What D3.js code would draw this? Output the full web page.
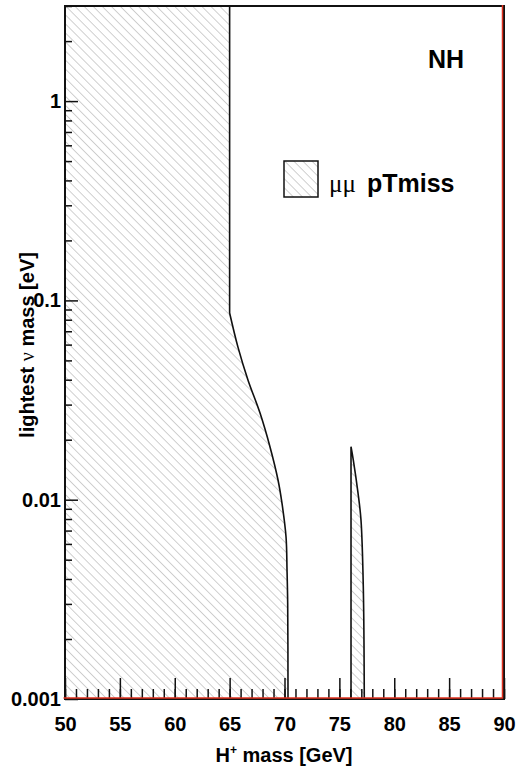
<!DOCTYPE html>
<html>
<head>
<meta charset="utf-8">
<script src="https://cdn.jsdelivr.net/npm/d3@7"></script>
<style>
  body { margin: 0; background: #fff; }
  text { font-family: "Liberation Sans", Arial, Helvetica, sans-serif; font-weight: bold; fill: #000; }
  .greek { font-family: "Liberation Serif", "DejaVu Serif", serif; font-weight: normal; }
</style>
</head>
<body>
<div id="chart"></div>
<script>

// x axis: H+ mass [GeV]
var xTicks = [50, 55, 60, 65, 70, 75, 80, 85, 90];
var xTickLabels = ['50', '55', '60', '65', '70', '75', '80', '85', '90'];
var xMinorTicks = d3.range(50, 91, 1);

// y axis: lightest neutrino mass [eV], log
var yTicks = [0.001, 0.01, 0.1, 1];
var yTickLabels = ['0.001', '0.01', '0.1', '1'];
var yMinorTicks = [0.002, 0.003, 0.004, 0.005, 0.006, 0.007, 0.008, 0.009,
                   0.02, 0.03, 0.04, 0.05, 0.06, 0.07, 0.08, 0.09,
                   0.2, 0.3, 0.4, 0.5, 0.6, 0.7, 0.8, 0.9, 2, 3];

// excluded region 1: corner points, then the curved edge
var mainCornerX = [50, 65];
var mainCornerY = [3, 3];
var mainEdgeX = [65, 65.76, 66.67, 67.77, 68.68, 69.41, 69.77, 70.14, 70.23, 70.29, 70.32];
var mainEdgeY = [0.0865, 0.0583, 0.0399, 0.0272, 0.0184, 0.01256, 0.0096, 0.0065, 0.00444, 0.00303, 0.001];

// excluded region 2: thin sliver
var sliverEdgeX = [76.06, 76.27, 76.70, 76.97, 77.18, 77.27];
var sliverEdgeY = [0.01845, 0.0158, 0.0108, 0.0079, 0.00365, 0.001];

// red frame graph
var redX = [50, 90, 90];
var redY = [0.001, 0.001, 3];

var legendLabel = 'pTmiss';
var legendGreek = '\u03bc\u03bc';
var cornerLabel = 'NH';

var margin = { top: 6, right: 15, bottom: 71, left: 65 };
var width = 519 - margin.left - margin.right;
var height = 770 - margin.top - margin.bottom;

var svg = d3.select('#chart')
  .append('svg')
    .attr('width', 519)
    .attr('height', 770);

var defs = svg.append('defs');
defs.append('pattern')
    .attr('id', 'hatch')
    .attr('patternUnits', 'userSpaceOnUse')
    .attr('width', 6.4)
    .attr('height', 6.4)
    .attr('patternTransform', 'rotate(-45)')
  .append('line')
    .attr('x1', 0).attr('y1', 0)
    .attr('x2', 0).attr('y2', 6.4)
    .attr('stroke', '#8c8c8c')
    .attr('stroke-width', 0.8);

var g = svg.append('g')
    .attr('transform', 'translate(' + margin.left + ',' + margin.top + ')');

var x = d3.scaleLinear().domain([50, 90]).range([0, width]);
var y = d3.scaleLog().domain([0.001, 3]).range([height, 0]);

var line = d3.line()
    .x(function (d) { return x(d[0]); })
    .y(function (d) { return y(d[1]); });
var curve = d3.line()
    .x(function (d) { return x(d[0]); })
    .y(function (d) { return y(d[1]); })
    .curve(d3.curveCatmullRom.alpha(0.5));

var mainCorner = d3.zip(mainCornerX, mainCornerY);
var mainEdge = d3.zip(mainEdgeX, mainEdgeY);
var sliverEdge = d3.zip(sliverEdgeX, sliverEdgeY);

// fills
var mainFill = line(mainCorner) + 'L' + curve(mainEdge).slice(1) + 'L' + x(50) + ',' + y(0.001) + 'Z';
g.append('path')
    .attr('d', mainFill)
    .attr('fill', 'url(#hatch)');

var sliverFill = 'M' + x(sliverEdgeX[0]) + ',' + y(0.001) + 'L' + curve(sliverEdge).slice(1) + 'Z';
g.append('path')
    .attr('d', sliverFill)
    .attr('fill', 'url(#hatch)');

// contours
g.append('path')
    .attr('d', line([[mainCornerX[1], mainCornerY[1]], mainEdge[0]]) + curve(mainEdge))
    .attr('fill', 'none')
    .attr('stroke', '#111')
    .attr('stroke-width', 1.6);

g.append('path')
    .attr('d', line([[sliverEdgeX[0], 0.001], sliverEdge[0]]) + curve(sliverEdge))
    .attr('fill', 'none')
    .attr('stroke', '#111')
    .attr('stroke-width', 1.6);

// x axis ticks (pointing inward)
g.append('g')
    .attr('transform', 'translate(0,' + height + ')')
    .call(d3.axisBottom(x).tickValues(xMinorTicks).tickSize(-10).tickFormat(''))
    .call(function (s) { s.select('.domain').remove(); });

g.append('g')
    .attr('transform', 'translate(0,' + height + ')')
    .call(d3.axisBottom(x)
      .tickValues(xTicks)
      .tickSize(-21)
      .tickPadding(18)
      .tickFormat(function (d, i) { return xTickLabels[i]; }))
    .call(function (s) {
      s.select('.domain').remove();
      s.selectAll('text').style('font-size', '20px').style('font-family', null);
    });

// y axis ticks
g.append('g')
    .call(d3.axisLeft(y).tickValues(yMinorTicks).tickSize(-7).tickFormat(''))
    .call(function (s) { s.select('.domain').remove(); });

g.append('g')
    .call(d3.axisLeft(y)
      .tickValues(yTicks)
      .tickSize(-13)
      .tickPadding(4)
      .tickFormat(function (d, i) { return yTickLabels[i]; }))
    .call(function (s) {
      s.select('.domain').remove();
      s.selectAll('text').style('font-size', '20px').style('font-family', null);
    });

g.selectAll('.tick line').attr('stroke', '#111').attr('stroke-width', 1.5);

// frame
g.append('rect')
    .attr('x', 0).attr('y', 0)
    .attr('width', width).attr('height', height)
    .attr('fill', 'none')
    .attr('stroke', '#111')
    .attr('stroke-width', 2);

// red graph on the border
g.append('path')
    .attr('d', line(d3.zip(redX, redY)))
    .attr('transform', 'translate(-1.5,-1)')
    .attr('fill', 'none')
    .attr('stroke', '#e0301e')
    .attr('stroke-width', 1.5);

// legend
var legend = g.append('g')
    .attr('transform', 'translate(' + (284 - margin.left) + ',' + (161 - margin.top) + ')');

legend.append('rect')
    .attr('width', 34).attr('height', 36)
    .attr('fill', 'url(#hatch)')
    .attr('stroke', '#111')
    .attr('stroke-width', 1.5);

var lt = legend.append('text')
    .attr('y', 31)
    .style('font-size', '25px');
lt.append('tspan')
    .attr('class', 'greek')
    .attr('x', 45)
    .text(legendGreek);
lt.append('tspan')
    .attr('x', 83)
    .text(legendLabel);

g.append('text')
    .attr('x', 464 - margin.left)
    .attr('y', 68 - margin.top)
    .attr('text-anchor', 'end')
    .style('font-size', '25px')
    .text(cornerLabel);

// axis titles
var xt = svg.append('text')
    .attr('x', 284)
    .attr('y', 762)
    .attr('text-anchor', 'middle')
    .style('font-size', '20px');
xt.append('tspan').text('H');
xt.append('tspan').attr('dy', -8).style('font-size', '12px').text('+');
xt.append('tspan').attr('dy', 8).text(' mass [GeV]');

var yt = svg.append('text')
    .attr('transform', 'translate(34,345) rotate(-90)')
    .attr('text-anchor', 'middle')
    .style('font-size', '20px');
yt.append('tspan').text('lightest ');
yt.append('tspan').attr('class', 'greek').text('\u03bd');
yt.append('tspan').text(' mass [eV]');

</script>
</body>
</html>
